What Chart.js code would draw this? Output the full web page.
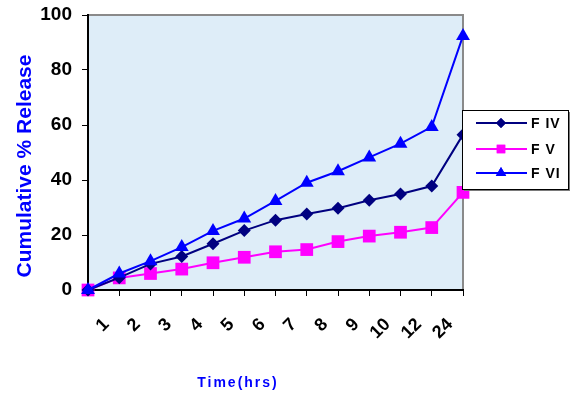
<!DOCTYPE html>
<html>
<head>
<meta charset="utf-8">
<script src="https://cdn.jsdelivr.net/npm/chart.js@4.4.0/dist/chart.umd.min.js"></script>
<style>
    html, body { margin: 0; padding: 0; background: #fff; }
    #wrap { width: 571px; height: 393px; position: relative; }
</style>
</head>
<body>
<div id="wrap"><canvas id="releaseChart"></canvas></div>
<script>
// time points (first point is t = 0, left unlabelled like the original)
const timeLabels = ['', '1', '2', '3', '4', '5', '6', '7', '8', '9', '10', '12', '24'];

// cumulative % release per formulation
const fourValues = [0, 4.5, 9.5, 12.2, 16.8, 21.6, 25.4, 27.6, 29.7, 32.6, 34.9, 37.8, 56.5];
const fiveValues = [0, 4.4, 6.0, 7.6, 9.9, 11.9, 13.9, 14.7, 17.6, 19.6, 21.0, 22.7, 35.5];
const sixValues = [0, 6.0, 10.5, 15.6, 21.5, 26.0, 32.4, 39.0, 43.2, 48.2, 53.2, 59.3, 92.4];

const seriesNames = ['F IV', 'F V', 'F VI'];
const yAxisTitle = 'Cumulative % Release';
const xAxisTitle = 'Time(hrs)';

const FONT = '"Liberation Sans", Arial, sans-serif';

// light blue plot area with grey top / right frame
const plotBackground = {
    id: 'plotBackground',
    beforeDraw(chart) {
        const { ctx, chartArea: a } = chart;
        ctx.save();
        ctx.fillStyle = '#deedf8';
        ctx.fillRect(a.left, a.top, a.right - a.left, a.bottom - a.top);
        ctx.strokeStyle = '#8a8a8a';
        ctx.lineWidth = 2;
        ctx.beginPath();
        ctx.moveTo(a.left, a.top);
        ctx.lineTo(a.right, a.top);
        ctx.lineTo(a.right, a.bottom);
        ctx.stroke();
        ctx.restore();
    }
};

// axis titles and the boxed legend sitting over the right edge
const extras = {
    id: 'extras',
    afterDraw(chart) {
        const ctx = chart.ctx;
        ctx.save();

        ctx.fillStyle = '#0000ff';
        ctx.font = 'bold 21px ' + FONT;
        ctx.textAlign = 'center';
        ctx.textBaseline = 'alphabetic';
        ctx.translate(31, 166);
        ctx.rotate(-Math.PI / 2);
        ctx.fillText(yAxisTitle, 0, 0);
        ctx.setTransform(1, 0, 0, 1, 0, 0);

        ctx.font = 'bold 14px ' + FONT;
        ctx.letterSpacing = '2px';
        ctx.fillText(xAxisTitle, 238, 387);
        ctx.letterSpacing = '0px';

        // legend box
        const bx = 462, by = 110, bw = 106, bh = 79;
        ctx.fillStyle = '#7a7a7a';
        ctx.fillRect(bx + 2, by + 2, bw, bh);
        ctx.fillStyle = '#ffffff';
        ctx.fillRect(bx, by, bw, bh);
        ctx.strokeStyle = '#000000';
        ctx.lineWidth = 1;
        ctx.strokeRect(bx + 0.5, by + 0.5, bw, bh);

        const rowY = [123, 149, 173];
        const markers = [
            { pointStyle: 'rectRot', radius: 5 },
            { pointStyle: 'rect', radius: 6 },
            { pointStyle: 'triangle', radius: 6 }
        ];
        chart.data.datasets.forEach((ds, i) => {
            const y = rowY[i];
            ctx.strokeStyle = ds.borderColor;
            ctx.lineWidth = 2;
            ctx.beginPath();
            ctx.moveTo(476, y);
            ctx.lineTo(527, y);
            ctx.stroke();
            ctx.fillStyle = ds.borderColor;
            Chart.helpers.drawPoint(ctx, {
                pointStyle: markers[i].pointStyle,
                radius: markers[i].radius,
                rotation: 0,
                borderWidth: 0
            }, 501, y);
            ctx.fill();
            ctx.fillStyle = '#000000';
            ctx.font = 'bold 14px ' + FONT;
            ctx.letterSpacing = '1px';
            ctx.textAlign = 'left';
            ctx.textBaseline = 'middle';
            ctx.fillText(seriesNames[i], 531, y + 1);
            ctx.letterSpacing = '0px';
        });

        ctx.restore();
    }
};

function makeSeries(label, data, color, style, radius, order) {
    return {
        label: label,
        data: data,
        borderColor: color,
        backgroundColor: color,
        borderWidth: 2,
        pointStyle: style,
        pointRadius: radius,
        pointHoverRadius: radius,
        pointBorderWidth: 0,
        tension: 0,
        clip: false,
        order: order
    };
}

const ctx = document.getElementById('releaseChart').getContext('2d');
new Chart(ctx, {
    type: 'line',
    data: {
        labels: timeLabels,
        datasets: [
            makeSeries(seriesNames[0], fourValues, '#000080', 'rectRot', 6.5, 2),
            makeSeries(seriesNames[1], fiveValues, '#ff00ff', 'rect', 9, 3),
            makeSeries(seriesNames[2], sixValues, '#0000ff', 'triangle', 8, 1)
        ]
    },
    options: {
        responsive: true,
        maintainAspectRatio: false,
        animation: false,
        layout: { padding: { left: 0, right: 108, top: 15, bottom: 0 } },
        plugins: {
            legend: { display: false },
            tooltip: { enabled: false }
        },
        scales: {
            x: {
                offset: false,
                afterFit(scale) {
                    scale.height = 103;
                    scale.paddingLeft = 0;
                    scale.paddingRight = 0;
                },
                grid: {
                    drawOnChartArea: false,
                    drawTicks: true,
                    tickLength: 6,
                    color: '#000000'
                },
                border: { display: true, color: '#000000', width: 2 },
                ticks: {
                    color: '#000000',
                    font: { family: FONT, size: 18, weight: 'bold' },
                    minRotation: 45,
                    maxRotation: 45,
                    autoSkip: false,
                    padding: 18,
                    labelOffset: -13
                }
            },
            y: {
                min: 0,
                max: 100,
                afterFit(scale) {
                    scale.width = 88;
                    scale.paddingTop = 0;
                    scale.paddingBottom = 0;
                },
                grid: {
                    drawOnChartArea: false,
                    drawTicks: true,
                    tickLength: 6,
                    color: '#000000'
                },
                border: { display: true, color: '#000000', width: 2 },
                ticks: {
                    stepSize: 20,
                    color: '#000000',
                    font: { family: FONT, size: 19, weight: 'bold' },
                    padding: 10
                }
            }
        }
    },
    plugins: [plotBackground, extras]
});
</script>
</body>
</html>
